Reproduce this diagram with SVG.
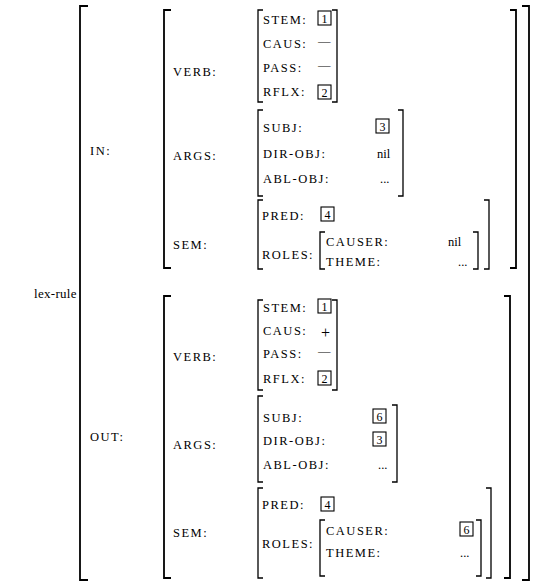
<svg xmlns="http://www.w3.org/2000/svg" width="534" height="583" viewBox="0 0 534 583">
<style>
  .br { fill: none; stroke: #000; stroke-width: 1.8; }
  .bi { fill: none; stroke: #000; stroke-width: 1.3; }
  .bx { fill: none; stroke: #000; stroke-width: 1.1; }
  .lab { font-family: "Liberation Serif", "DejaVu Serif", serif; font-size: 12.5px; letter-spacing: 1.5px; fill: #000; }
  .val { font-family: "Liberation Serif", "DejaVu Serif", serif; font-size: 12.5px; fill: #000; }
  .num { font-family: "Liberation Serif", "DejaVu Serif", serif; font-size: 12px; fill: #000; text-anchor: middle; }
  .big { font-size: 16px; }
  .name { font-size: 13px; letter-spacing: 0.3px; }
</style>
<rect width="534" height="583" fill="#fff"/>

<g id="outer">
  <text class="val name" x="34" y="298">lex-rule</text>
  <path class="br" d="M88 6 H80 V580 H88"/>
  <path class="br" d="M522 6 H529 V580 H522"/>
</g>

<!-- IN -->
<g id="in">
  <text class="lab" x="90" y="155">IN:</text>
  <path class="br" d="M171 10 H164 V268 H171"/>
  <path class="br" d="M510 10 H516 V268 H510"/>

  <g id="in-verb">
    <text class="lab" x="173" y="76">VERB:</text>
    <path class="bi" d="M263 10 H258 V102 H263"/>
    <path class="bi" d="M332 10 H337 V102 H332"/>
    <text class="lab" x="263" y="24">STEM:</text>
    <rect class="bx" x="318" y="11" width="13" height="14"/><text class="num" x="324.5" y="22.5">1</text>
    <text class="lab" x="263" y="48">CAUS:</text>
    <text class="val" x="318" y="45">—</text>
    <text class="lab" x="263" y="72">PASS:</text>
    <text class="val" x="318" y="69">—</text>
    <text class="lab" x="263" y="96">RFLX:</text>
    <rect class="bx" x="318" y="85" width="13" height="14"/><text class="num" x="324.5" y="96.5">2</text>
  </g>

  <g id="in-args">
    <text class="lab" x="173" y="160">ARGS:</text>
    <path class="bi" d="M263 110 H258 V196 H263"/>
    <path class="bi" d="M398 110 H403 V196 H398"/>
    <text class="lab" x="263" y="132">SUBJ:</text>
    <rect class="bx" x="376" y="119" width="13" height="14"/><text class="num" x="382.5" y="130.5">3</text>
    <text class="lab" x="263" y="158">DIR-OBJ:</text>
    <text class="val" x="377" y="158">nil</text>
    <text class="lab" x="263" y="183">ABL-OBJ:</text>
    <text class="val" x="380" y="183">...</text>
  </g>

  <g id="in-sem">
    <text class="lab" x="173" y="249">SEM:</text>
    <path class="bi" d="M263 200 H258 V269 H263"/>
    <path class="bi" d="M484 200 H489 V269 H484"/>
    <text class="lab" x="262" y="220">PRED:</text>
    <rect class="bx" x="321" y="207" width="13" height="14"/><text class="num" x="327.5" y="218.5">4</text>
    <text class="lab" x="262" y="259">ROLES:</text>
    <path class="bi" d="M325 232 H320 V269 H325"/>
    <path class="bi" d="M473 232 H478 V269 H473"/>
    <text class="lab" x="326" y="246">CAUSER:</text>
    <text class="val" x="448" y="246">nil</text>
    <text class="lab" x="326" y="266">THEME:</text>
    <text class="val" x="458" y="266">...</text>
  </g>
</g>

<!-- OUT -->
<g id="out">
  <text class="lab" x="90" y="441">OUT:</text>
  <path class="br" d="M171 296 H164 V578 H171"/>
  <path class="br" d="M504 296 H510 V578 H504"/>

  <g id="out-verb">
    <text class="lab" x="173" y="361">VERB:</text>
    <path class="bi" d="M263 300 H258 V390 H263"/>
    <path class="bi" d="M332 300 H337 V390 H332"/>
    <text class="lab" x="263" y="312">STEM:</text>
    <rect class="bx" x="318" y="299" width="13" height="14"/><text class="num" x="324.5" y="310.5">1</text>
    <text class="lab" x="263" y="335">CAUS:</text>
    <text class="val big" x="321" y="338">+</text>
    <text class="lab" x="263" y="358">PASS:</text>
    <text class="val" x="318" y="355">—</text>
    <text class="lab" x="263" y="383">RFLX:</text>
    <rect class="bx" x="318" y="371" width="13" height="14"/><text class="num" x="324.5" y="382.5">2</text>
  </g>

  <g id="out-args">
    <text class="lab" x="173" y="449">ARGS:</text>
    <path class="bi" d="M263 396 H258 V482 H263"/>
    <path class="bi" d="M392 405 H397 V482 H392"/>
    <text class="lab" x="263" y="422">SUBJ:</text>
    <rect class="bx" x="373" y="409" width="13" height="14"/><text class="num" x="379.5" y="420.5">6</text>
    <text class="lab" x="263" y="445">DIR-OBJ:</text>
    <rect class="bx" x="373" y="432" width="13" height="14"/><text class="num" x="379.5" y="443.5">3</text>
    <text class="lab" x="263" y="469">ABL-OBJ:</text>
    <text class="val" x="378" y="469">...</text>
  </g>

  <g id="out-sem">
    <text class="lab" x="173" y="537">SEM:</text>
    <path class="bi" d="M263 488 H258 V578 H263"/>
    <path class="bi" d="M486 488 H491 V578 H486"/>
    <text class="lab" x="262" y="509">PRED:</text>
    <rect class="bx" x="321" y="497" width="13" height="14"/><text class="num" x="327.5" y="508.5">4</text>
    <text class="lab" x="262" y="548">ROLES:</text>
    <path class="bi" d="M325 520 H320 V576 H325"/>
    <path class="bi" d="M476 520 H481 V576 H476"/>
    <text class="lab" x="326" y="535">CAUSER:</text>
    <rect class="bx" x="460" y="522" width="13" height="14"/><text class="num" x="466.5" y="533.5">6</text>
    <text class="lab" x="326" y="557">THEME:</text>
    <text class="val" x="460" y="557">...</text>
  </g>
</g>
</svg>
